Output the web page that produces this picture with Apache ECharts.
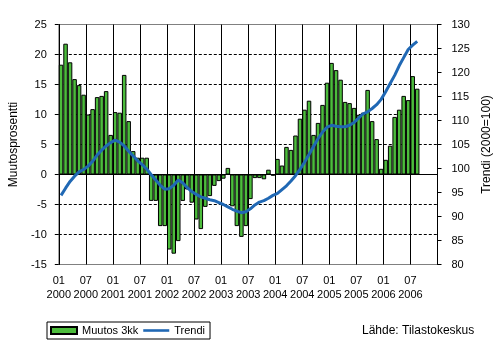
<!DOCTYPE html>
<html><head><meta charset="utf-8">
<script src="https://cdn.jsdelivr.net/npm/echarts@6/dist/echarts.min.js"></script>
<style>html,body{margin:0;padding:0;background:#fff}#c{width:504px;height:348px}</style>
</head><body><div id="c"></div>
<script>
const years = ['2000','2001','2002','2003','2004','2005','2006'];
const months = ['01','02','03','04','05','06','07','08','09','10','11','12'];
const muutos3kk = [
 18.3,21.8,18.7,15.9,14.9,13.3,10.0,10.9,12.9,13.1,13.9,6.6,
 10.4,10.3,16.6,8.9,3.9,2.8,2.8,2.8,-4.4,-4.4,-8.6,-8.6,
 -12.5,-13.2,-11.1,-4.4,-2.5,-4.7,-7.5,-9.1,-5.4,-3.6,-1.9,-1.1,
 -0.7,1.1,-5.3,-8.6,-10.4,-8.6,-4.1,-0.6,-0.6,-0.8,0.8,-0.2,
 2.6,1.5,4.6,4.1,6.5,9.3,10.8,12.3,6.6,8.6,11.6,15.3,
 18.6,17.4,15.8,12.1,11.9,11.1,9.95,10.3,14.1,8.9,5.9,0.95,
 2.45,4.8,9.6,10.8,13.1,12.4,16.4,14.3
];
const trendi = [
 94.4,95.9,97.3,98.4,99.3,99.8,100.5,101.5,102.8,103.8,104.7,105.4,
 105.9,105.5,104.7,103.6,102.6,101.6,100.8,99.9,98.7,97.6,96.5,95.7,
 95.8,96.5,97.6,97.0,96.0,95.2,94.6,94.1,93.8,93.5,93.3,92.9,
 92.5,92.0,91.5,91.1,90.8,91.0,91.6,92.4,93.0,93.3,93.8,94.4,
 94.8,95.6,96.4,97.4,98.5,99.8,101.3,102.9,104.6,106.2,107.6,108.6,
 109.0,108.8,108.7,108.7,109.0,109.6,110.5,111.4,111.8,112.5,113.3,114.4,
 116.0,117.7,119.4,121.4,123.1,124.8,125.7,126.5
];
const dashedGridValues = [-10, -5, 5, 10, 15, 20];
const categories = [];
years.forEach(y => months.forEach(m => categories.push(m + '\n' + y)));
const halfYearBoundaries = [];
for (let i = 6; i < categories.length; i += 6) halfYearBoundaries.push(i);

const font = 'Liberation Sans, Arial, sans-serif';
const chart = echarts.init(document.getElementById('c'), null, {renderer:'canvas'});
chart.setOption({
  animation:false,
  textStyle:{fontFamily:font},
  grid:{left:45.5, top:24.5, width:392, height:240, show:true, borderColor:'#808080', borderWidth:1, backgroundColor:'transparent'},
  legend:{
    left:47, top:322, orient:'horizontal',
    padding:[3,5,3,3], borderColor:'#000', borderWidth:1,
    itemWidth:26, itemHeight:7, itemGap:5,
    textStyle:{fontFamily:font, fontSize:11, color:'#000'},
    data:[{name:'Muutos 3kk', icon:'rect'}, {name:'Trendi', icon:'path://M0 0H30V3H0Z'}]
  },
  graphic:[{type:'text', left:362, top:325, style:{text:'Lähde: Tilastokeskus', font:'12px '+font, fill:'#000'}}],
  xAxis:[
    {type:'category', data:categories, boundaryGap:true, position:'bottom',
     axisLine:{show:false}, axisTick:{show:false}, axisLabel:{show:false}, splitLine:{show:false}},
    {type:'value', min:0, max:categories.length, interval:6, position:'bottom',
     axisLine:{show:false}, axisTick:{show:false},
     axisLabel:{margin:9, fontSize:11, lineHeight:14, color:'#000', fontFamily:font,
       showMaxLabel:false, formatter:v => categories[v] || ''},
     splitLine:{show:false}}
  ],
  yAxis:[
    {type:'value', min:-15, max:25, interval:5, position:'left',
     name:'Muutosprosentti', nameLocation:'middle', nameRotate:90, nameGap:30,
     nameTextStyle:{fontSize:12, color:'#000', fontFamily:font},
     axisLine:{show:true, lineStyle:{color:'#000'}},
     axisTick:{show:true, length:4, lineStyle:{color:'#000'}},
     axisLabel:{margin:12, fontSize:11, color:'#000', fontFamily:font},
     splitLine:{show:false}
    },
    {type:'value', min:80, max:130, interval:5, position:'right',
     name:'Trendi (2000=100)', nameLocation:'middle', nameRotate:90, nameGap:38,
     nameTextStyle:{fontSize:12, color:'#000', fontFamily:font},
     axisLine:{show:true, lineStyle:{color:'#000'}},
     axisTick:{show:true, length:4, lineStyle:{color:'#000'}},
     axisLabel:{margin:14, fontSize:11, color:'#000', fontFamily:font},
     splitLine:{show:false}
    }
  ],
  series:[
    {name:'grid', type:'line', data:[], xAxisIndex:1, yAxisIndex:0, silent:true, z:1,
     markLine:{silent:true, symbol:'none', animation:false, label:{show:false},
       lineStyle:{color:'#000', type:'solid', width:1},
       data:halfYearBoundaries.map(v => ({xAxis:v}))}},
    {name:'Muutos 3kk', type:'bar', data:muutos3kk, xAxisIndex:0, yAxisIndex:0, barCategoryGap:'0%', z:2,
     itemStyle:{color:'#4cbc3c', borderColor:'#000', borderWidth:1},
     markLine:{silent:true, symbol:'none', animation:false, label:{show:false}, z:1,
       lineStyle:{color:'#000', type:[3,2], width:1},
       data:dashedGridValues.map(v => ({yAxis:v})).concat([{yAxis:0, lineStyle:{type:'solid'}}])}},
    {name:'Trendi', type:'line', data:trendi, xAxisIndex:0, yAxisIndex:1, symbol:'none',
     lineStyle:{color:'#2068b4', width:3}, itemStyle:{color:'#2068b4'}, z:5}
  ]
});
</script></body></html>
